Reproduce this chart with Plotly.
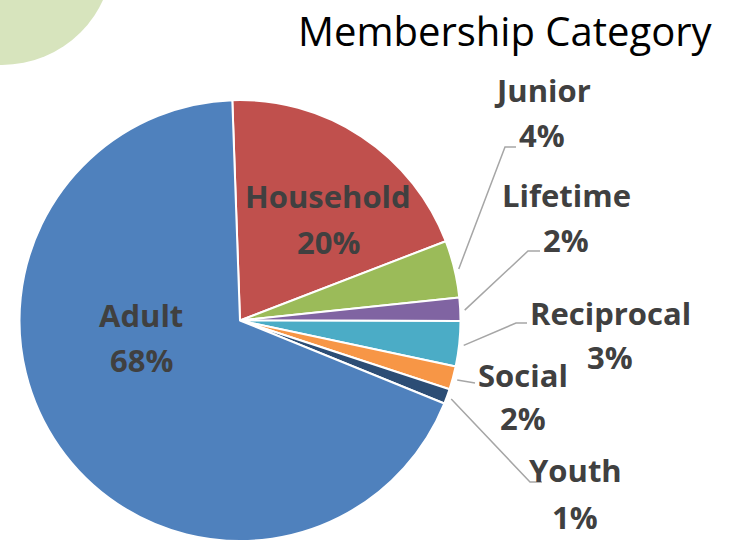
import math
import plotly.graph_objects as go

# ---- data ----
categories = ["Household", "Junior", "Lifetime", "Reciprocal", "Social", "Youth", "Adult"]
values = [19.7, 4.2, 1.7, 3.3, 1.7, 1.1, 68.3]
colors = ["#C0504D", "#9BBB59", "#8064A2", "#4BACC6", "#F79646", "#2C4D75", "#4F81BD"]
title_text = "Membership Category"

# ---- layout constants (pixels) ----
W, H = 744, 541
CX, CY, R = 240, 321.5, 219.5
ROT = -2.0
TEXT_COLOR = "#404040"
LINE_COLOR = "#A6A6A6"
LABEL_FONT = "'Open Sans', Lato, sans-serif"
TITLE_FONT = "'Open Sans', Lato, sans-serif"

# label anchor positions: (x center, y line1, y line2)
label_pos = {
    "Household": (328, 196, 242),
    "Adult": (141, 315, 360),
    "Junior": (542, 90, 135),
    "Lifetime": (566, 195, 240),
    "Reciprocal": (610, 313, 357),
    "Social": (523, 375, 418),
    "Youth": (575, 470, 517),
}
# leader line elbow / end points
leader_pts = {
    "Junior": ((505, 147), (516, 147)),
    "Lifetime": ((528, 251), (540, 251)),
    "Reciprocal": ((516, 323), (527, 323)),
    "Social": ((475, 383), (475, 383)),
    "Youth": ((530, 482), (542, 482)),
}


def px(x):
    return x / W


def py(y):
    return 1 - y / H


total = sum(values)
fig = go.Figure()
fig.add_trace(go.Pie(
    labels=categories,
    values=values,
    sort=False,
    direction="clockwise",
    rotation=ROT,
    marker=dict(colors=colors, line=dict(color="white", width=2)),
    textinfo="none",
    hoverinfo="label+percent",
    showlegend=False,
    domain=dict(x=[px(CX - R - 2), px(CX + R + 2)], y=[0, py(CY - R - 2)]),
))

annotations = []
shapes = []
cum = 0.0
for name, v in zip(categories, values):
    start = ROT + cum / total * 360
    cum += v
    end = ROT + cum / total * 360
    mid = math.radians((start + end) / 2)
    pct = round(v / total * 100)
    lx, ly1, ly2 = label_pos[name]
    for txt, yy in ((name, ly1), (f"{pct}%", ly2)):
        annotations.append(dict(
            x=px(lx), y=py(yy), xref="paper", yref="paper",
            text=f"<b>{txt}</b>", showarrow=False,
            xanchor="center", yanchor="middle",
            font=dict(family=LABEL_FONT, size=31, color=TEXT_COLOR),
        ))
    if name in leader_pts:
        sx = CX + R * 1.025 * math.sin(mid)
        sy = CY - R * 1.025 * math.cos(mid)
        (ex, ey), (fx, fy) = leader_pts[name]
        shapes.append(dict(
            type="path", xref="paper", yref="paper",
            path=f"M {px(sx)} {py(sy)} L {px(ex)} {py(ey)} L {px(fx)} {py(fy)}",
            line=dict(color=LINE_COLOR, width=1.5),
        ))

# decorative circle in the corner
shapes.append(dict(
    type="circle", xref="paper", yref="paper", layer="below",
    x0=px(2 - 111), x1=px(2 + 111), y0=py(-46 + 111), y1=py(-46 - 111),
    fillcolor="#D7E4BD", line=dict(width=0),
))

annotations.append(dict(
    x=px(506), y=py(30), xref="paper", yref="paper",
    text=title_text, showarrow=False, xanchor="center", yanchor="middle",
    font=dict(family=TITLE_FONT, size=40, color="#000000"),
))

fig.update_layout(
    width=W, height=H,
    margin=dict(l=0, r=0, t=0, b=0),
    paper_bgcolor="white", plot_bgcolor="white",
    annotations=annotations, shapes=shapes,
)

fig.write_html("out.html", config={"displayModeBar": False},
               post_script="document.body.style.margin='0px';")
